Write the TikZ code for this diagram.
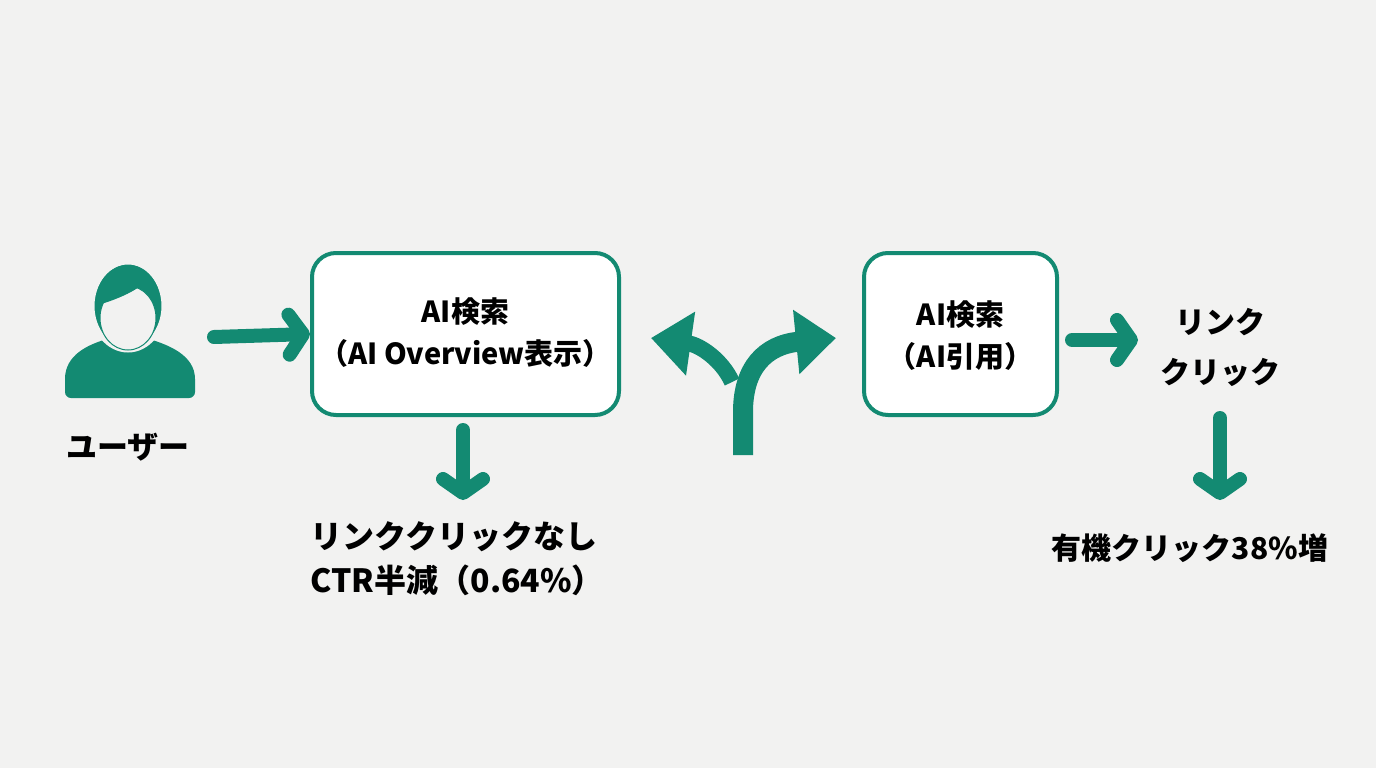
\documentclass[tikz,border=0pt]{standalone}
\usepackage{fontspec}
\setmainfont{Noto Sans CJK JP}
\usetikzlibrary{arrows.meta}
\definecolor{teal}{HTML}{138A72}
\definecolor{bg}{HTML}{F2F2F1}
\begin{document}
\begin{tikzpicture}[x=1pt,y=-1pt,
  box/.style={draw=teal,line width=4pt,fill=white,rounded corners=24pt},
  txt/.style={font=\bfseries\fontsize{29}{34}\selectfont,align=center,text=black},
  arr/.style={draw=teal,line width=14pt,line cap=round,-{Straight Barb[length=14pt,width=40pt,round]}},
  fork/.style={draw=teal,line width=20pt,-{Triangle[width=62pt,length=40pt]}}]
\fill[bg] (0,0) rectangle (1376,768);
\useasboundingbox (0,0) rectangle (1376,768);
% user icon
\fill[teal,rounded corners=6pt] (65,398) -- (65,385) .. controls (65,355) and (88,345) .. (110,338) -- (146,338) .. controls (168,345) and (195,355) .. (195,385) -- (195,398) -- cycle;
\filldraw[teal,draw=bg,line width=5pt] (128,306) ellipse [x radius=36, y radius=44];
\filldraw[fill=bg,draw=teal,line width=1pt] (128,318) ellipse [x radius=28, y radius=32];
\begin{scope}
\clip (128,306) ellipse [x radius=33, y radius=41];
\fill[teal] (98,305) .. controls (115,300) and (135,292) .. (145,282) .. controls (150,292) and (155,298) .. (158,305) -- (158,260) -- (98,260) -- cycle;
\end{scope}
\node[txt,font=\bfseries\fontsize{31}{32}\selectfont] (user) at (128,447) {ユーザー};
\coordinate (ua) at (214,337);
% box1
\node[box,minimum width=307pt,minimum height=162pt] (b1) at (465.5,334) {};
\node[txt] (b1t) at (465.5,333) {AI検索\\[8pt]（AI Overview表示）};
\draw[arr] (ua) -- (b1.west);
\coordinate (d1s) at (463,430);
\coordinate (d1e) at (463,500);
\draw[arr] (d1s) -- (d1e);
\node[txt,font=\bfseries\fontsize{32}{44}\selectfont,align=left,anchor=north west] (t1) at (307,518) {リンククリックなし\\CTR半減（0.64\%）};
% fork
\coordinate (fs) at (743,455);
\coordinate (fr) at (836,338);
\coordinate (fl) at (651,338);
\coordinate (flb) at (732,382);
\draw[fork] (fs) -- (743,412) .. controls (743,368) and (765,345) .. (fr);
\draw[fork,line width=16pt] (flb) .. controls (722,360) and (700,345) .. (fl);
% box2
\node[box,minimum width=193pt,minimum height=162pt] (b2) at (960.5,334) {};
\node[txt] (b2t) at (960.5,336) {AI検索\\[8pt]（AI引用）};
\coordinate (a3s) at (1072,340);
\coordinate (a3e) at (1138,340);
\draw[arr] (a3s) -- (a3e);
\node[txt,font=\bfseries\fontsize{30}{50}\selectfont] (lc) at (1220,347) {リンク\\クリック};
\coordinate (d2s) at (1220,418);
\coordinate (d2e) at (1220,500);
\draw[arr] (d2s) -- (d2e);
\node[txt,font=\bfseries\fontsize{30}{32}\selectfont] (t2) at (1190,548) {有機クリック38\%増};
\end{tikzpicture}
\end{document}
